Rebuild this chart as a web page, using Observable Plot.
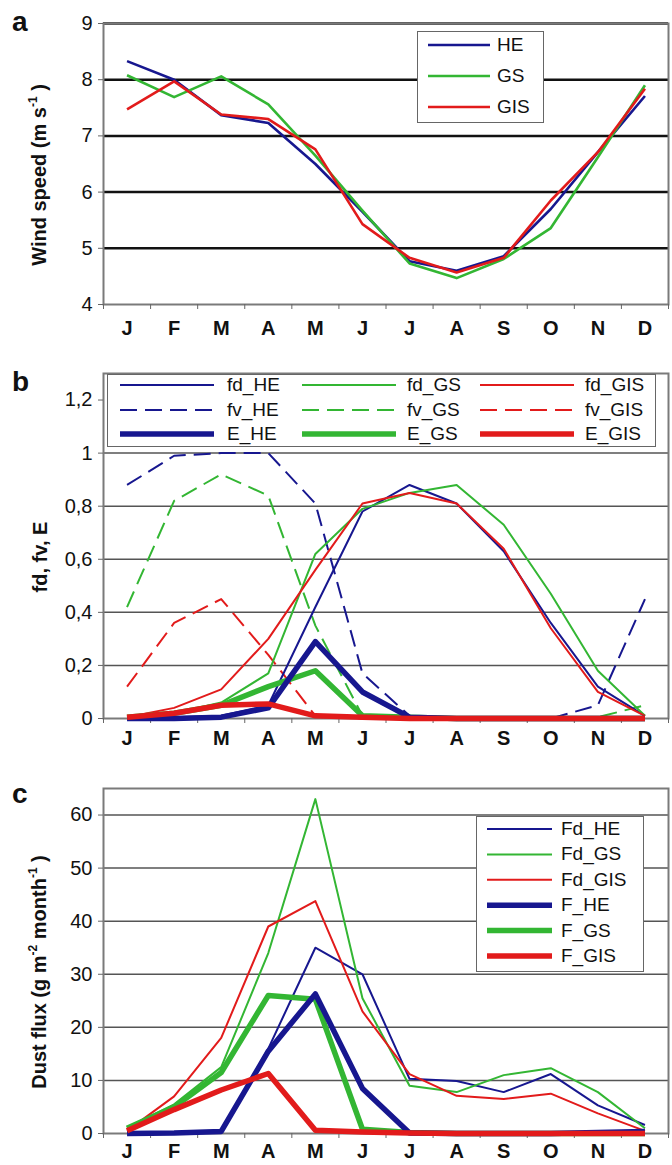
<!DOCTYPE html>
<html><head><meta charset="utf-8">
<script src="https://cdn.jsdelivr.net/npm/d3@7"></script>
<script src="https://cdn.jsdelivr.net/npm/@observablehq/plot@0.6"></script>
<style>
body{margin:0;background:#fff;font-family:"Liberation Sans",Arial,sans-serif;color:#111;}
#root{position:relative;width:672px;height:1165px;overflow:hidden;background:#fff;}
.panel{position:absolute;left:0;}
.letter{position:absolute;font-weight:bold;font-size:28px;line-height:1;}
.ytitle{position:absolute;font-weight:bold;font-size:20px;white-space:nowrap;transform:translate(-50%,-50%) rotate(-90deg);}
.ytitle sup{font-size:12px;vertical-align:0.75em;}
.legend{position:absolute;background:#fff;border:1.5px solid #666;box-sizing:border-box;z-index:1;}
.ltext{position:absolute;font-size:19px;line-height:22px;z-index:3;white-space:nowrap;}
#overlay{position:absolute;left:0;top:0;z-index:2;pointer-events:none;}
</style></head>
<body><div id="root"></div>
<script>
// ---- data ----
const months = ["J","F","M","A","M","J","J","A","S","O","N","D"];

// panel a: wind speed (m s-1)
const windHE  = [8.33, 8.00, 7.37, 7.23, 6.50, 5.65, 4.77, 4.60, 4.86, 5.70, 6.71, 7.71];
const windGS  = [8.08, 7.69, 8.06, 7.56, 6.65, 5.67, 4.73, 4.47, 4.81, 5.36, 6.62, 7.90];
const windGIS = [7.47, 7.97, 7.38, 7.30, 6.76, 5.43, 4.83, 4.57, 4.83, 5.85, 6.71, 7.84];
const ticksA = [4, 5, 6, 7, 8, 9];
const gridA = [5, 6, 7, 8, 9];

// panel b: fd, fv, E
const fdHE  = [0.003, 0.005, 0.01, 0.05, 0.42, 0.78, 0.88, 0.81, 0.63, 0.36, 0.12, 0.01];
const fdGS  = [0.005, 0.02, 0.06, 0.17, 0.62, 0.79, 0.85, 0.88, 0.73, 0.47, 0.18, 0.01];
const fdGIS = [0.005, 0.04, 0.11, 0.30, 0.56, 0.81, 0.85, 0.81, 0.64, 0.34, 0.10, 0.01];
const fvHE  = [0.88, 0.99, 1.00, 1.00, 0.81, 0.17, 0.01, 0, 0, 0, 0.05, 0.45];
const fvGS  = [0.42, 0.82, 0.92, 0.84, 0.35, 0.01, 0, 0, 0, 0, 0.005, 0.05];
const fvGIS = [0.12, 0.36, 0.45, 0.24, 0.01, 0, 0, 0, 0, 0, 0, 0];
const eHE   = [0, 0, 0.005, 0.04, 0.29, 0.10, 0.005, 0, 0, 0, 0, 0];
const eGS   = [0.005, 0.02, 0.05, 0.12, 0.18, 0.01, 0.005, 0, 0, 0, 0, 0];
const eGIS  = [0.005, 0.02, 0.05, 0.055, 0.01, 0.005, 0, 0, 0, 0, 0, 0];
const ticksB = [0, 0.2, 0.4, 0.6, 0.8, 1, 1.2];
const gridB = [0.2, 0.4, 0.6, 0.8, 1];

// panel c: dust flux (g m-2 month-1)
const FdHE  = [0, 0.1, 0.4, 16, 35, 30, 10.3, 9.9, 7.8, 11.2, 5.3, 1.6];
const FdGS  = [1.1, 5.5, 12.5, 34, 63, 25.5, 9, 7.8, 11, 12.3, 7.8, 1];
const FdGIS = [0.5, 7, 18, 39, 43.8, 23, 11.2, 7.1, 6.5, 7.5, 3.8, 0.5];
const FHE   = [0, 0.1, 0.4, 15.5, 26.3, 8.5, 0.1, 0, 0, 0, 0.2, 0.4];
const FGS   = [1, 5, 11.5, 26, 25.3, 0.8, 0.2, 0, 0, 0, 0, 0];
const FGIS  = [0.5, 4.5, 8.2, 11.3, 0.6, 0.3, 0.1, 0, 0, 0, 0, 0];
const ticksC = [0, 10, 20, 30, 40, 50, 60];
const gridC = [10, 20, 30, 40, 50, 60];

const BLUE = "#17178f", GREEN = "#33b633", RED = "#e21b1b";
const FONT = '"Liberation Sans", Arial, sans-serif';

// ---- helpers ----
const root = document.getElementById("root");
const idx = d3.range(12);
const bounds = d3.range(13).map(i => i - 0.5);
const comma = d => String(d).replace(".", ",");

function series(vals, color, w, dash) {
  return Plot.line(vals, {x: (d, i) => i, y: d => d, stroke: color, strokeWidth: w,
    strokeDasharray: dash, strokeLinejoin: "round", strokeLinecap: "butt"});
}

function panel({top, height, mTop, mBottom, yDomain, ticks, fmt, grid, gridColor, gridWidth, pad, lines}) {
  const chart = Plot.plot({
    width: 672, height, marginLeft: 103, marginRight: 4, marginTop: mTop, marginBottom: mBottom,
    style: {fontFamily: FONT, fontSize: "20px", color: "#111", background: "transparent", overflow: "visible"},
    x: {domain: [-0.5, 11.5], axis: null},
    y: {domain: yDomain, axis: null},
    marks: [
      Plot.ruleY(grid, {stroke: gridColor, strokeWidth: gridWidth}),
      Plot.frame({stroke: "#7a7a7a", strokeWidth: 2}),
      Plot.axisY({ticks, tickFormat: fmt, tickSize: 5, tickPadding: 6, fontSize: 20, stroke: "#666"}),
      Plot.axisX({ticks: bounds, tickFormat: () => "", tickSize: 5, stroke: "#666"}),
      Plot.axisX({ticks: idx, tickFormat: i => months[i], tickSize: 0, tickPadding: pad, fontSize: 20, fontWeight: "bold"}),
      ...lines
    ]
  });
  const div = document.createElement("div");
  div.className = "panel";
  div.style.top = top + "px";
  div.appendChild(chart);
  root.appendChild(div);
}

panel({top: 0, height: 345, mTop: 23, mBottom: 41, yDomain: [4, 9], ticks: ticksA, fmt: d => d,
  grid: gridA, gridColor: "#111", gridWidth: 2.5, pad: 16,
  lines: [series(windHE, BLUE, 2.6), series(windGS, GREEN, 2.6), series(windGIS, RED, 2.6)]});

panel({top: 345, height: 415, mTop: 28, mBottom: 42, yDomain: [0, 1.3], ticks: ticksB, fmt: comma,
  grid: gridB, gridColor: "#555", gridWidth: 1.5, pad: 12,
  lines: [
    series(fvHE, BLUE, 2, "17,8"), series(fvGS, GREEN, 2, "17,8"), series(fvGIS, RED, 2, "17,8"),
    series(fdHE, BLUE, 2), series(fdGS, GREEN, 2), series(fdGIS, RED, 2),
    series(eGS, GREEN, 5.5), series(eHE, BLUE, 5.5), series(eGIS, RED, 5.5)
  ]});

panel({top: 760, height: 405, mTop: 28, mBottom: 32, yDomain: [0, 65], ticks: ticksC, fmt: d => d,
  grid: gridC, gridColor: "#555", gridWidth: 1.5, pad: 10,
  lines: [
    series(FdHE, BLUE, 2), series(FdGS, GREEN, 2), series(FdGIS, RED, 2),
    series(FGS, GREEN, 5.5), series(FHE, BLUE, 5.5), series(FGIS, RED, 5.5)
  ]});

// ---- panel letters and y titles ----
function html(tag, cls, style, inner) {
  const el = document.createElement(tag);
  el.className = cls; Object.assign(el.style, style); el.innerHTML = inner;
  root.appendChild(el); return el;
}
html("div", "letter", {left: "12px", top: "8px"}, "a");
html("div", "letter", {left: "12px", top: "368px"}, "b");
html("div", "letter", {left: "12px", top: "780px"}, "c");
html("div", "ytitle", {left: "38px", top: "175px"}, "Wind speed (m s<sup>-1</sup> )");
html("div", "ytitle", {left: "40px", top: "557px"}, "fd, fv, E");
html("div", "ytitle", {left: "38px", top: "972px"}, "Dust flux (g m<sup>-2</sup> month<sup>-1</sup> )");

// ---- legends ----
const overlay = d3.select(root).append("svg").attr("id", "overlay").attr("width", 672).attr("height", 1165);
function legendBox(l, t, w, h) { html("div", "legend", {left: l + "px", top: t + "px", width: w + "px", height: h + "px"}, ""); }
function legendItem(x1, x2, tx, y, label, color, w, dash) {
  overlay.append("line").attr("x1", x1).attr("x2", x2).attr("y1", y).attr("y2", y)
    .attr("stroke", color).attr("stroke-width", w).attr("stroke-dasharray", dash || null);
  html("div", "ltext", {left: tx + "px", top: (y - 11) + "px"}, label);
}
// panel a
const legA = [["HE", BLUE], ["GS", GREEN], ["GIS", RED]];
legendBox(417, 31, 127, 92);
legA.forEach(([lab, c], k) => legendItem(428, 490, 497, 45 + 31 * k, lab, c, 2.6));
// panel b
legendBox(107, 374, 549, 73);
const colsB = [[120, 214, 227, BLUE, "HE"], [302, 396, 407, GREEN, "GS"], [480, 574, 585, RED, "GIS"]];
colsB.forEach(([x1, x2, tx, c, s]) => {
  legendItem(x1, x2, tx, 385, "fd_" + s, c, 2);
  legendItem(x1, x2, tx, 410, "fv_" + s, c, 2, "17,8");
  legendItem(x1, x2, tx, 434, "E_" + s, c, 5.5);
});
// panel c
legendBox(476, 816, 168, 156);
const legC = [["Fd_HE", BLUE, 2], ["Fd_GS", GREEN, 2], ["Fd_GIS", RED, 2], ["F_HE", BLUE, 5.5], ["F_GS", GREEN, 5.5], ["F_GIS", RED, 5.5]];
legC.forEach(([lab, c, w], k) => legendItem(487, 552, 561, 829 + 25.4 * k, lab, c, w));
</script></body></html>
